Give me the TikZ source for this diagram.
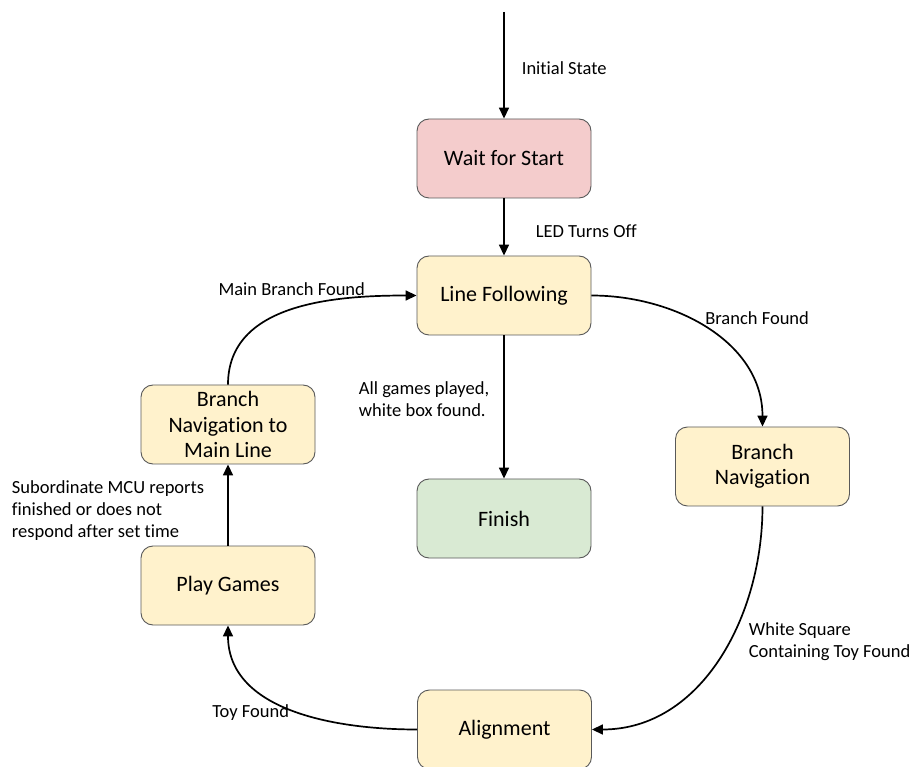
\documentclass[tikz,border=0pt]{standalone}
\usepackage{fontspec}
\setmainfont{Carlito}[Ligatures=NoCommon]
\usetikzlibrary{arrows.meta, positioning}

\definecolor{waitred}{HTML}{F4CCCC}
\definecolor{stepyellow}{HTML}{FFF2CC}
\definecolor{donegreen}{HTML}{D9EAD3}

\begin{document}
\begin{tikzpicture} [x=1pt, y=-1pt,
    state/.style={draw=black!65, line width=0.9pt, rounded corners=12pt,
      fill=stepyellow, minimum width=174pt, minimum height=79pt,
      inner sep=2pt, align=center, font=\fontsize{22}{25.5}\selectfont},
    lbl/.style={font=\fontsize{18.5}{22}\selectfont, align=left, inner sep=2pt}]

\useasboundingbox (0,0) rectangle (914,767);

\node (wait) [state, fill=waitred] at (504,158.5) {Wait for Start};

\node (lf) [state] at (504,295.5) {Line Following};

\node (fin) [state, fill=donegreen] at (504,518.5) {Finish};

\node (bn) [state] at (762.5,466.5) {Branch\\Navigation};

\node (al) [state] at (504.5,729.5) {Alignment};

\node (pg) [state] at (228,585.5) {Play Games};

\node (bm) [state] at (228,424.5) {Branch\\Navigation to\\Main Line};

\coordinate (init) at (504,12);

% Arrows
\path [-{Triangle[length=11pt, width=10pt]}, line width=1.7pt]
(init) edge node [lbl, right=15pt, yshift=-2.5pt] {Initial State} (wait)
(wait) edge node [lbl, right=29pt, yshift=-4pt] {LED Turns Off} (lf)
(lf) edge node [lbl, left=12pt, yshift=8pt] {All games played,\\white box found.} (fin)
(lf) edge [out=0, in=90] node [lbl, pos=0.5, anchor=south west, xshift=-6pt, yshift=2pt] {Branch Found} (bn)
(bn) edge [out=-90, in=0] node [lbl, pos=0.4, anchor=west, xshift=12pt, yshift=-9pt] {White Square\\Containing Toy Found} (al)
(al) edge [out=180, in=-90] node [lbl, pos=0.5, anchor=east, xshift=1pt, yshift=-4pt] {Toy Found} (pg)
(pg) edge node [lbl, left=21pt, yshift=-5.5pt] {Subordinate MCU reports\\finished or does not\\respond after set time} (bm)
(bm) edge [out=90, in=180] node [lbl, pos=0.5, anchor=south, yshift=11pt] {Main Branch Found} (lf);
\end{tikzpicture}
\end{document}
